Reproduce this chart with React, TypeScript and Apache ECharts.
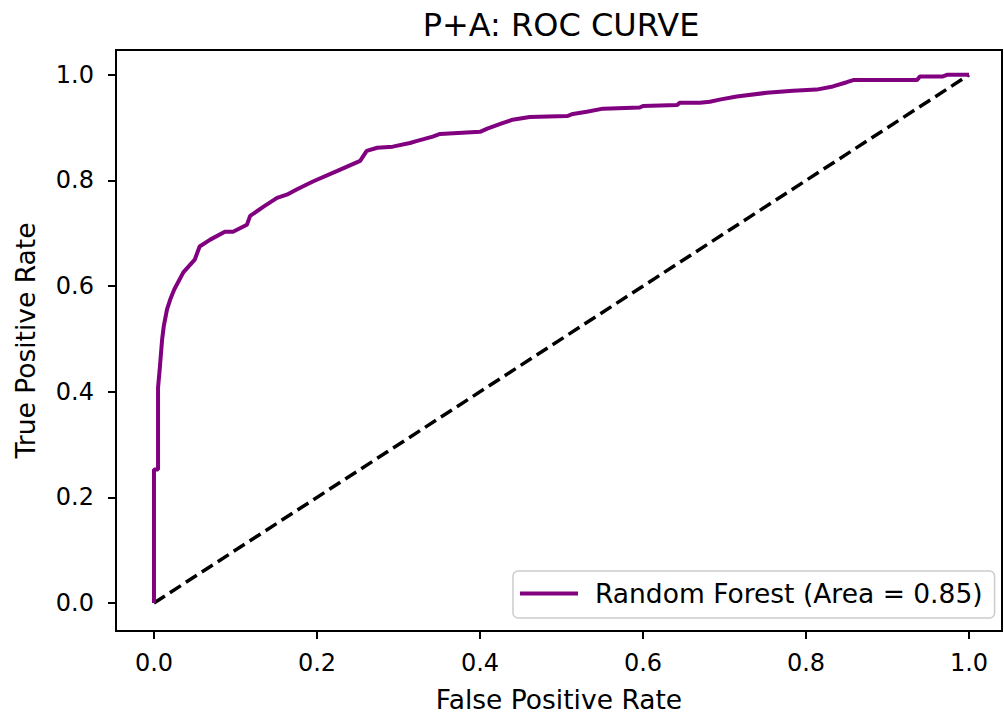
import React, { useEffect, useRef } from "react";
import * as echarts from "echarts";

const fpr = [
  0, 0, 0.005, 0.005, 0.007, 0.01, 0.012, 0.016, 0.02, 0.025, 0.036, 0.05, 0.056, 0.069, 0.087,
  0.097, 0.114, 0.118, 0.134, 0.151, 0.163, 0.175, 0.195, 0.225, 0.253, 0.261, 0.274, 0.293,
  0.314, 0.323, 0.342, 0.351, 0.4, 0.409, 0.425, 0.44, 0.461, 0.507, 0.514, 0.531, 0.551, 0.596,
  0.6, 0.642, 0.645, 0.67, 0.682, 0.694, 0.715, 0.752, 0.784, 0.813, 0.833, 0.85, 0.858, 0.936,
  0.94, 0.968, 0.973, 1.0,
];
const tpr = [
  0, 0.253, 0.253, 0.408, 0.442, 0.499, 0.524, 0.556, 0.575, 0.594, 0.626, 0.65, 0.675, 0.688,
  0.703, 0.703, 0.716, 0.733, 0.75, 0.767, 0.773, 0.783, 0.798, 0.818, 0.837, 0.856, 0.862, 0.864,
  0.871, 0.875, 0.883, 0.888, 0.892, 0.898, 0.907, 0.915, 0.92, 0.922, 0.926, 0.93, 0.936, 0.938,
  0.941, 0.943, 0.947, 0.947, 0.949, 0.953, 0.959, 0.966, 0.97, 0.972, 0.978, 0.986, 0.99, 0.99,
  0.997, 0.997, 1.0, 1.0,
];
const chanceX = [0, 1];
const chanceY = [0, 1];
const tickValues = [0, 0.2, 0.4, 0.6, 0.8, 1.0];
const seriesName = "Random Forest (Area = 0.85)";
const titleText = "P+A: ROC CURVE";
const xName = "False Positive Rate";
const yName = "True Positive Rate";

const FONT = "DejaVu Sans";

export default function App() {
  const ref = useRef<HTMLDivElement>(null);
  useEffect(() => {
    if (!ref.current) return;
    const chart = echarts.init(ref.current, undefined, { renderer: "svg" });
    const axisCommon = {
      type: "value" as const,
      splitLine: { show: false },
      axisLine: { show: true, onZero: false, lineStyle: { color: "#000", width: 2 } },
      axisTick: { show: true, length: 8, lineStyle: { color: "#000", width: 2 }, customValues: tickValues },
      axisLabel: {
        fontSize: 24,
        color: "#000",
        fontFamily: FONT,
        customValues: tickValues,
        formatter: (v: number) => v.toFixed(1),
      },
      nameLocation: "middle" as const,
      nameTextStyle: { fontSize: 26.5, color: "#000", fontFamily: FONT },
    };
    chart.setOption({
      animation: false,
      backgroundColor: "#fff",
      title: {
        text: titleText,
        left: 556,
        textAlign: "center",
        top: 4,
        textStyle: { fontSize: 32, fontWeight: "normal", color: "#000", fontFamily: FONT },
      },
      grid: {
        left: 116,
        top: 50,
        right: 2,
        bottom: 86,
        show: true,
        borderColor: "#000",
        borderWidth: 2,
        backgroundColor: "transparent",
      },
      xAxis: {
        ...axisCommon,
        min: -0.0466,
        max: 1.0405,
        name: xName,
        nameGap: 55,
        axisLabel: { ...axisCommon.axisLabel, margin: 20 },
      },
      yAxis: {
        ...axisCommon,
        min: -0.053,
        max: 1.047,
        name: yName,
        nameGap: 77,
        axisLabel: { ...axisCommon.axisLabel, margin: 22 },
      },
      legend: {
        data: [seriesName],
        left: 513,
        top: 571,
        padding: [9, 12, 11, 7],
        itemWidth: 58,
        itemHeight: 4,
        icon: "rect",
        borderColor: "#cccccc",
        borderWidth: 1.5,
        borderRadius: 5,
        backgroundColor: "rgba(255,255,255,0.8)",
        textStyle: { fontSize: 26.5, color: "#000", fontFamily: FONT, padding: [0, 0, 0, 12] },
      },
      series: [
        {
          name: "chance",
          type: "line",
          data: chanceX.map((x, i) => [x, chanceY[i]]),
          showSymbol: false,
          silent: true,
          lineStyle: { color: "#000", width: 3.5, type: [13, 6] },
          z: 2,
        },
        {
          name: seriesName,
          type: "line",
          data: fpr.map((x, i) => [x, tpr[i]]),
          showSymbol: false,
          itemStyle: { color: "#800080" },
          lineStyle: { color: "#800080", width: 4 },
          z: 3,
        },
      ],
    });
    return () => chart.dispose();
  }, []);
  return (
    <div
      ref={ref}
      style={{ position: "fixed", left: 0, top: 0, width: 1004, height: 718, background: "#fff" }}
    />
  );
}
